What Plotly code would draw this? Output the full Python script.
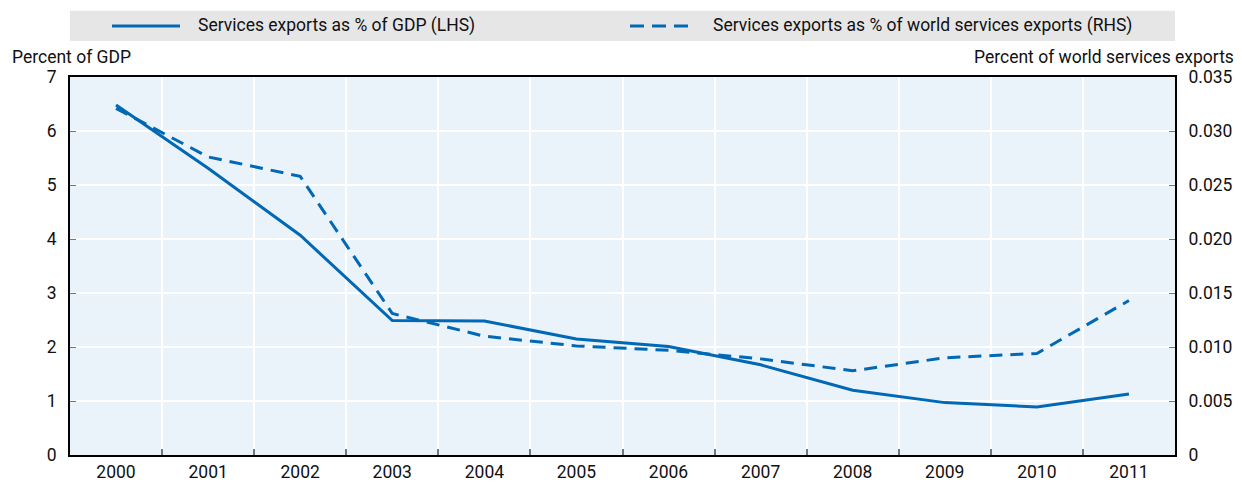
import plotly.graph_objects as go

years = ["2000", "2001", "2002", "2003", "2004", "2005", "2006", "2007", "2008", "2009", "2010", "2011"]
gdp_share = [6.48, 5.31, 4.07, 2.49, 2.48, 2.15, 2.01, 1.67, 1.20, 0.97, 0.89, 1.13]
world_share = [0.0321, 0.0276, 0.0258, 0.0131, 0.0110, 0.0101, 0.0097, 0.0089, 0.0078, 0.0090, 0.0094, 0.0143]
left_ticks = [0, 1, 2, 3, 4, 5, 6, 7]
right_ticks = [0, 0.005, 0.010, 0.015, 0.020, 0.025, 0.030, 0.035]
right_labels = ["0", "0.005", "0.010", "0.015", "0.020", "0.025", "0.030", "0.035"]
name_lhs = "Services exports as % of GDP (LHS)"
name_rhs = "Services exports as % of world services exports (RHS)"

BLUE = "#0068B4"
FONT = "Roboto, Liberation Sans, sans-serif"
FS = 17.5

fig = go.Figure()
fig.add_trace(go.Scatter(x=years, y=gdp_share, mode="lines", name=name_lhs,
                         line=dict(color=BLUE, width=3), showlegend=False))
fig.add_trace(go.Scatter(x=years, y=world_share, mode="lines", name=name_rhs, yaxis="y2",
                         line=dict(color=BLUE, width=3, dash="13px,8px"), showlegend=False))

fig.update_layout(
    width=1242, height=489,
    margin=dict(l=70, r=67, t=77, b=34, autoexpand=False),
    paper_bgcolor="white", plot_bgcolor="#EAF2FA",
    font=dict(family=FONT, size=FS, color="#111111"),
    xaxis=dict(type="category", tickson="boundaries", ticks="inside", ticklen=6,
               tickcolor="#777777", tickwidth=2, showgrid=True, gridcolor="white", gridwidth=2,
               showline=True, linecolor="black", linewidth=2, mirror=True, automargin=False,
               range=[-0.5, 11.5], tickfont=dict(size=FS)),
    yaxis=dict(range=[0, 7], tickvals=left_ticks, ticks="inside", ticklen=6,
               tickcolor="#777777", tickwidth=1, showgrid=True, gridcolor="white", gridwidth=2,
               showline=True, linecolor="black", linewidth=2, zeroline=False, automargin=False,
               ticklabelstandoff=8),
    yaxis2=dict(range=[0, 0.035], tickvals=right_ticks, ticktext=right_labels,
                overlaying="y", side="right", ticks="inside", ticklen=6,
                tickcolor="#777777", tickwidth=1, showgrid=False, automargin=False,
                showline=True, linecolor="black", linewidth=2, zeroline=False,
                ticklabelstandoff=8),
)

# legend box drawn manually
fig.add_shape(type="rect", xref="paper", yref="paper", x0=0, x1=1, y0=1.095, y1=1.175,
              fillcolor="#E6E6E6", line=dict(width=0), layer="below")
legend_y = 1.135
fig.add_shape(type="line", xref="paper", yref="paper", x0=(112 - 70) / 1105, x1=(180 - 70) / 1105,
              y0=legend_y, y1=legend_y, line=dict(color=BLUE, width=3))
fig.add_shape(type="line", xref="paper", yref="paper", x0=(630 - 70) / 1105, x1=(695 - 70) / 1105,
              y0=legend_y, y1=legend_y, line=dict(color=BLUE, width=3, dash="14px,8px"))
fig.add_annotation(xref="paper", yref="paper", x=(196 - 70) / 1105, y=legend_y, text=name_lhs,
                   showarrow=False, xanchor="left", yanchor="middle", font=dict(size=FS))
fig.add_annotation(xref="paper", yref="paper", x=(711 - 70) / 1105, y=legend_y, text=name_rhs,
                   showarrow=False, xanchor="left", yanchor="middle", font=dict(size=FS))

# axis titles
fig.add_annotation(xref="paper", yref="paper", x=-60 / 1105, y=1.0, yshift=8, text="Percent of GDP",
                   showarrow=False, xanchor="left", yanchor="bottom", font=dict(size=FS))
fig.add_annotation(xref="paper", yref="paper", x=(1236 - 70) / 1105, y=1.0, yshift=8,
                   text="Percent of world services exports",
                   showarrow=False, xanchor="right", yanchor="bottom", font=dict(size=FS))

fig.write_html("out.html", config={"displayModeBar": False},
               post_script="document.body.style.margin='0';")
